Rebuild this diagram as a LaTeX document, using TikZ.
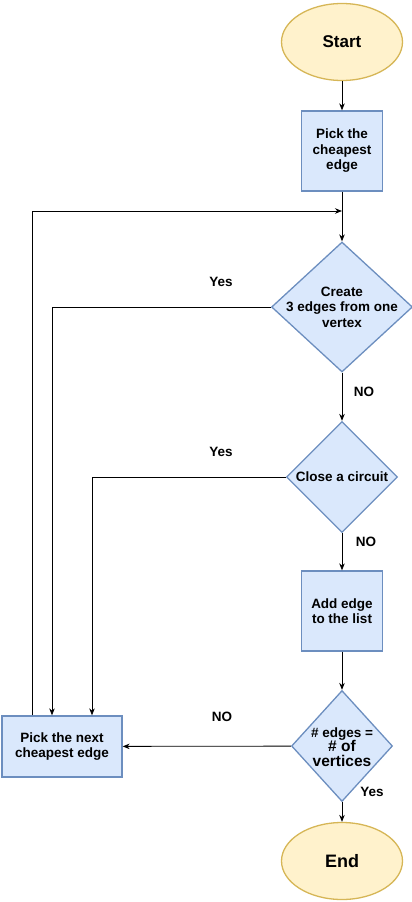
\documentclass[tikz,border=0pt]{standalone}
\usepackage{fontspec}
\setmainfont{Liberation Sans}
\usetikzlibrary{shapes.geometric,arrows.meta}
\definecolor{termfill}{HTML}{FFF2CC}
\definecolor{termline}{HTML}{D6B656}
\definecolor{stepfill}{HTML}{DAE8FC}
\definecolor{stepline}{HTML}{6C8EBF}

\begin{document}
\begin{tikzpicture}[
            x=1pt,y=-1pt,
            every node/.append style={black,font=\bfseries\fontsize{13.5}{15.5}\selectfont},
            terminal/.style={ellipse,draw=termline,fill=termfill,line width=1.3pt,
                minimum width=121pt,minimum height=77pt,inner sep=0pt,
                font=\bfseries\fontsize{17}{20}\selectfont},
            stepbox/.style={rectangle,draw=stepline,fill=stepfill,line width=1.3pt,
                minimum width=81pt,minimum height=80pt,inner sep=2pt,align=center},
            decision/.style={diamond,draw=stepline,fill=stepfill,line width=1.3pt,
                inner sep=0pt},
            conn/.style={-{Stealth[length=7pt,width=5.5pt]},line width=0.8pt}
        ]
            \useasboundingbox (0,0) rectangle (412,902);
            % shapes
            \node [terminal] (start) at (342,42) {Start};
            \node [stepbox] (pick) at (342,151) {Pick the\\cheapest\\edge};
            \node [decision,minimum width=141pt,minimum height=130pt] (create) at (342,307) {};
            \node [align=center] (createtext) at (create) {Create\\3 edges from one\\vertex};
            \node [decision,minimum width=111pt,minimum height=111pt] (circuit) at (342,477) {};
            \node (circuittext) at (circuit) {Close a circuit};
            \node [stepbox] (add) at (342,611) {Add edge\\to the list};
            \node [decision,minimum width=101pt,minimum height=111pt] (count) at (342,746) {};
            \node [align=center] (counttext) at (342,747) {\# edges =\\[-1pt]
                {\fontsize{15.5}{18}\selectfont\# of}\\[-1pt]{\fontsize{15.5}{18}\selectfont vertices}};
            \node [terminal,font=\bfseries\fontsize{18}{20}\selectfont] (end) at (342,861) {End};
            \node [stepbox,minimum width=120pt,minimum height=61pt] (next) at (62,746.5)
                {Pick the next\\cheapest edge};
            \coordinate (join) at (342,211);
            % connectors
            \draw [conn] (start) -- (pick);
            \draw [conn] (pick) -- (create);
            \draw [conn] (create) -- (circuit);
            \draw [conn] (circuit) -- (add);
            \draw [conn] (add) -- (count);
            \draw [conn] (count) -- (end);
            \draw [conn] (count) -- (next);
            \draw [conn] ([xshift=-30pt]next.north) |- (join);
            \draw [conn] (create.west) -| ([xshift=-10pt]next.north);
            \draw [conn] (circuit.west) -| ([xshift=30pt]next.north);
            % labels
            \node (yes1) at (221,282) {Yes};
            \node (yes2) at (221,452) {Yes};
            \node (no1) at (364,392) {NO};
            \node (no2) at (366,542) {NO};
            \node (no3) at (222,717) {NO};
            \node (yes3) at (372,792) {Yes};
        \end{tikzpicture}
\end{document}
